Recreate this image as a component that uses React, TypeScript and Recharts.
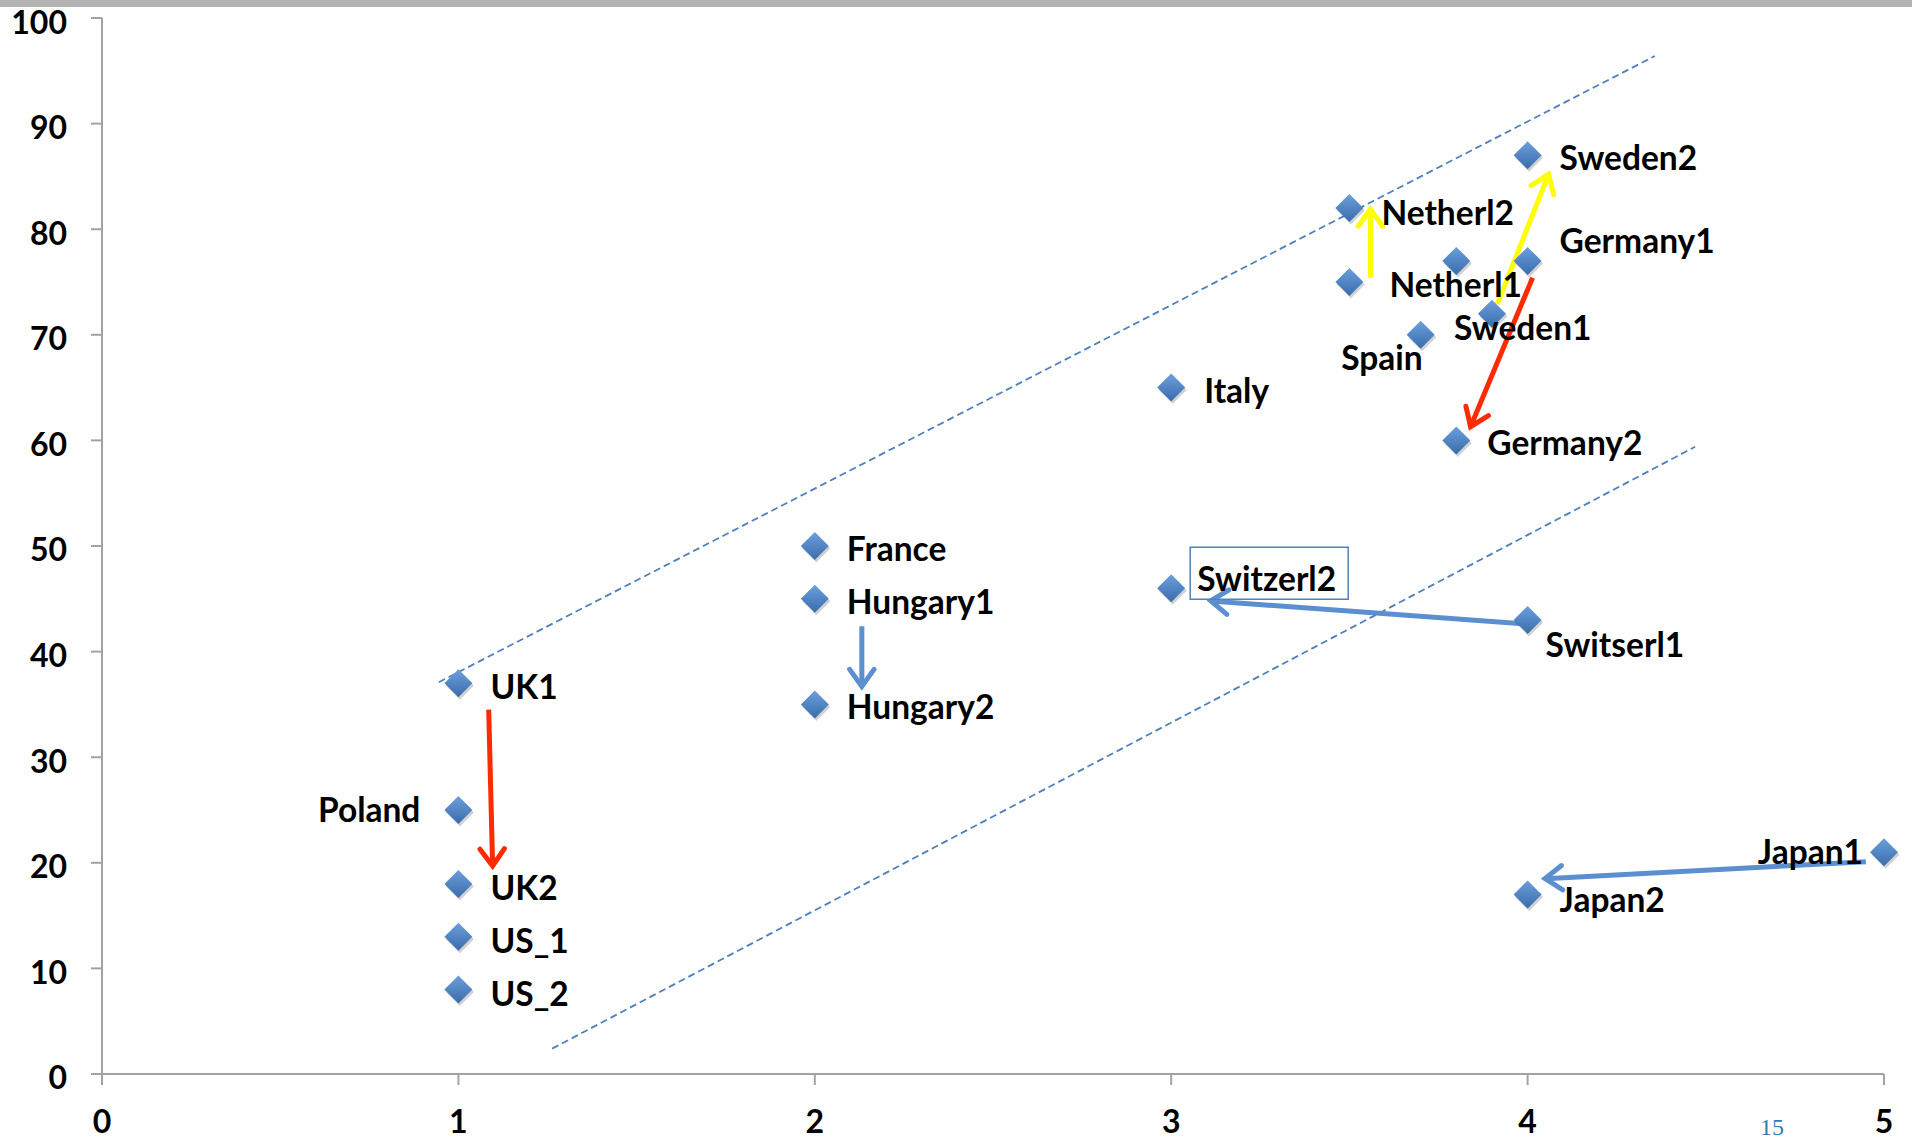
import { ReferenceLine, Scatter, ScatterChart, XAxis, YAxis } from 'recharts'

// country scores (x = index, y = percent)
const countries = [
  'UK1', 'Poland', 'UK2', 'US_1', 'US_2',
  'France', 'Hungary1', 'Hungary2',
  'Italy', 'Switzerl2',
  'Netherl2', 'Netherl1', 'Spain', '', 'Germany2', 'Sweden1',
  'Sweden2', 'Germany1', 'Switserl1', 'Japan2', 'Japan1',
]
const xScores = [1, 1, 1, 1, 1, 2, 2, 2, 3, 3, 3.5, 3.5, 3.7, 3.8, 3.8, 3.9, 4, 4, 4, 4, 5]
const yScores = [37, 25, 18, 13, 8, 50, 45, 35, 65, 46, 82, 75, 70, 77, 60, 72, 87, 77, 43, 17, 21]

const xTicks = [0, 1, 2, 3, 4, 5]
const yTicks = [0, 10, 20, 30, 40, 50, 60, 70, 80, 90, 100]

// dashed band around the main cluster
const upperBand = [{ x: 0.945, y: 37.1 }, { x: 4.357, y: 96.4 }]
const lowerBand = [{ x: 1.263, y: 2.4 }, { x: 4.47, y: 59.4 }]

// movements between the two rounds
const moveFrom = [[1.085, 34.5], [4.014, 75.4], [3.559, 75.4], [3.915, 72.9], [2.132, 42.4], [4.0, 42.6], [4.949, 20.1]]
const moveTo = [[1.096, 19.7], [3.84, 61.3], [3.559, 81.9], [4.059, 85.2], [2.132, 36.7], [3.111, 44.8], [4.049, 18.5]]
const moveKind = ['fall', 'fall', 'rise', 'rise', 'shift', 'shift', 'shift']

const kindColor: Record<string, string> = {
  fall: '#ff2a00',
  rise: '#ffff00',
  shift: '#5b8fcf',
}

const points = countries.map((name, i) => ({ name, x: xScores[i], y: yScores[i] }))

// label offsets from the marker centre: [dx, dy, anchor]
const labelAt: Record<string, [number, number, 'start' | 'end']> = {
  Sweden2: [32, 2, 'start'],
  Netherl2: [32, 4, 'start'],
  Germany1: [32, -21, 'start'],
  Netherl1: [40, 2, 'start'],
  Sweden1: [-38, 13, 'start'],
  Spain: [2, 22, 'end'],
  Italy: [33, 2, 'start'],
  Germany2: [31, 2, 'start'],
  France: [32, 2, 'start'],
  Hungary1: [32, 2, 'start'],
  Hungary2: [32, 2, 'start'],
  Switzerl2: [26, -10, 'start'],
  Switserl1: [18, 24, 'start'],
  UK1: [32, 3, 'start'],
  UK2: [32, 3, 'start'],
  US_1: [32, 3, 'start'],
  US_2: [32, 3, 'start'],
  Poland: [-38, -1, 'end'],
  Japan1: [-21, -1, 'end'],
  Japan2: [32, 5, 'start'],
}

const FONT = 'Lato, "Open Sans", sans-serif'

function Diamond(props: any) {
  const { cx, cy } = props
  const r = 14
  const d = (ox: number, oy: number) =>
    `M${cx + ox},${cy - r + oy}L${cx + r + ox},${cy + oy}L${cx + ox},${cy + r + oy}L${cx - r + ox},${cy + oy}Z`
  return (
    <g>
      <path d={d(1.5, 2.5)} fill="#000" opacity={0.18} />
      <path d={d(0, 0)} fill="url(#diamondFill)" />
    </g>
  )
}

function PointLabel(props: any) {
  const { cx, cy, payload } = props
  const place = labelAt[payload.name]
  if (!payload.name || !place) return <g />
  const [dx, dy, anchor] = place
  return (
    <g>
      {payload.name === 'Switzerl2' && (
        <rect x={cx + 19} y={cy - 41} width={158} height={52} fill="none" stroke="#4f81bd" strokeWidth={1.5} />
      )}
      <text
        x={cx + dx}
        y={cy + dy}
        textAnchor={anchor}
        dominantBaseline="central"
        fontFamily={FONT}
        fontWeight={700}
        fontSize={33.5}
        fill="#000"
      >
        {payload.name}
      </text>
    </g>
  )
}

function arrowShape(color: string) {
  return (p: any) => {
    const { x1, y1, x2, y2 } = p
    if (x1 == null) return <g />
    const ang = Math.atan2(y2 - y1, x2 - x1)
    const len = 21
    const spread = 0.62
    const h1x = x2 - len * Math.cos(ang - spread)
    const h1y = y2 - len * Math.sin(ang - spread)
    const h2x = x2 - len * Math.cos(ang + spread)
    const h2y = y2 - len * Math.sin(ang + spread)
    return (
      <g stroke={color} strokeWidth={5} strokeLinecap="round" fill="none">
        <line x1={x1} y1={y1} x2={x2} y2={y2} strokeLinecap="butt" />
        <polyline points={`${h1x},${h1y} ${x2},${y2} ${h2x},${h2y}`} strokeLinejoin="miter" />
      </g>
    )
  }
}

const tickStyle = { fill: '#000', fontFamily: FONT, fontWeight: 700, fontSize: 32 }

export default function App() {
  return (
    <div style={{ position: 'absolute', left: 0, top: 0, width: 1912, height: 1139, background: '#fff' }}>
      <div style={{ position: 'absolute', left: 0, top: 0, width: 1912, height: 7, background: '#b4b4b4' }} />
      <ScatterChart width={1912} height={1139} margin={{ top: 18, right: 28, bottom: 5, left: 0 }}>
        <defs>
          <linearGradient id="diamondFill" x1="0" y1="0" x2="0" y2="1">
            <stop offset="0%" stopColor="#6c9fdc" />
            <stop offset="100%" stopColor="#3a6cac" />
          </linearGradient>
        </defs>
        <XAxis
          type="number"
          dataKey="x"
          domain={[0, 5]}
          ticks={xTicks}
          height={60}
          stroke="#a3a3a3"
          strokeWidth={2}
          tickSize={11}
          tickMargin={25}
          tick={tickStyle}
          tickLine={{ stroke: '#a3a3a3', strokeWidth: 2 }}
        />
        <YAxis
          type="number"
          dataKey="y"
          domain={[0, 100]}
          ticks={yTicks}
          width={102}
          stroke="#a3a3a3"
          strokeWidth={2}
          tickSize={11}
          tickMargin={24}
          tick={{ ...tickStyle, dy: 4 }}
          tickLine={{ stroke: '#a3a3a3', strokeWidth: 2 }}
        />
        <ReferenceLine segment={upperBand} stroke="#4f81bd" strokeWidth={1.8} strokeDasharray="7 4" />
        <ReferenceLine segment={lowerBand} stroke="#4f81bd" strokeWidth={1.8} strokeDasharray="7 4" />
        <Scatter data={points} shape={Diamond} isAnimationActive={false} />
        <Scatter data={points} shape={PointLabel} isAnimationActive={false} />
        {moveFrom.map((from, i) => (
          <ReferenceLine
            key={i}
            segment={[{ x: from[0], y: from[1] }, { x: moveTo[i][0], y: moveTo[i][1] }]}
            shape={arrowShape(kindColor[moveKind[i]])}
          />
        ))}
        <text x={1772} y={1127} textAnchor="middle" dominantBaseline="central" fontFamily='"Liberation Serif", serif' fontSize={24} fill="#2f7db3">
          15
        </text>
      </ScatterChart>
    </div>
  )
}
